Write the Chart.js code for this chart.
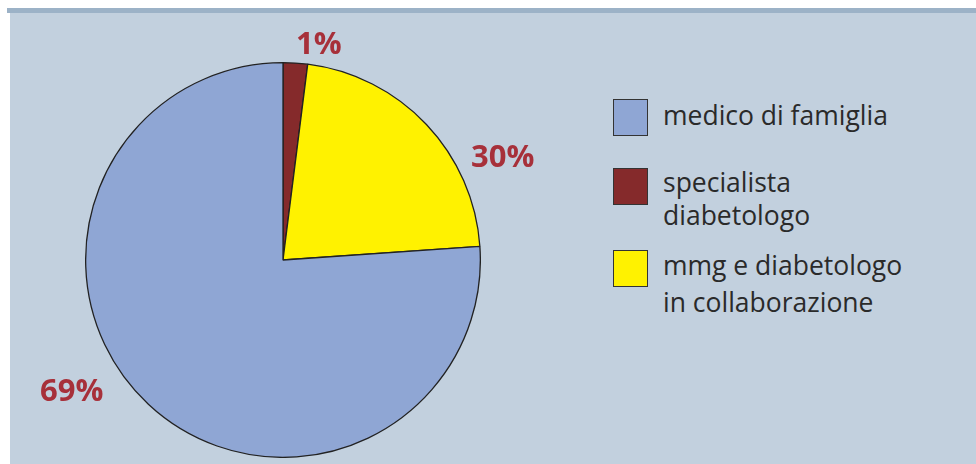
<!DOCTYPE html>
<html>
<head>
<meta charset="utf-8">
<script src="https://cdn.jsdelivr.net/npm/chart.js@4.4.0/dist/chart.umd.min.js"></script>
<style>
body{margin:0;width:976px;height:464px;background:#fff;position:relative;overflow:hidden;font-family:"Open Sans",sans-serif}
#bar{position:absolute;left:7px;top:8px;right:0;height:5px;background:#9cb2c7}
#panel{position:absolute;left:10px;top:13px;right:0;bottom:0;background:#c2d0de}
#wrap{position:absolute;left:85px;top:62px;width:396px;height:396px}
.pct{position:absolute;font-weight:bold;font-size:31px;line-height:1;color:#a7303a;white-space:nowrap}
.box{position:absolute;left:613px;width:33px;height:35px;border:1.5px solid #333}
.lab{position:absolute;left:663px;font-size:26.5px;line-height:1;color:#2a2a2a;white-space:nowrap}
</style>
</head>
<body>
<div id="bar"></div>
<div id="panel"></div>
<div id="wrap"><canvas id="mycanvas" width="396" height="396"></canvas></div>
<div id="labels"></div>
<script>
// drawn shares measured from the slice angles, starting at 12 o'clock clockwise
var categories=['specialista diabetologo','mmg e diabetologo in collaborazione','medico di famiglia'];
var shares=[2.0,21.9,76.1];
var colors=['#852a2b','#fff200','#8fa6d4'];
// printed percentages
var pctText=['1%','30%','69%'];
var pctPos=[[296,54],[471,167],[40,401]];

// legend (order as in the original)
var legendOrder=[2,0,1];
var legendLines=[['medico di famiglia'],['specialista','diabetologo'],['mmg e diabetologo','in collaborazione']];
var legendBoxTop=[99,168,250];
var legendBase=[[125],[192,225],[275,312]];

var out='';
for(var i=0;i<pctText.length;i++){
	out+='<div class="pct" style="left:'+pctPos[i][0]+'px;top:'+(pctPos[i][1]-27.5)+'px">'+pctText[i]+'</div>';
}
for(var j=0;j<legendOrder.length;j++){
	out+='<div class="box" style="top:'+legendBoxTop[j]+'px;background:'+colors[legendOrder[j]]+'"></div>';
	for(var k=0;k<legendLines[j].length;k++){
		out+='<div class="lab" style="top:'+(legendBase[j][k]-23.5)+'px">'+legendLines[j][k]+'</div>';
	}
}
document.getElementById('labels').innerHTML=out;

var ctx=document.getElementById('mycanvas');
new Chart(ctx,{
	type:'pie',
	data:{
		labels:categories,
		datasets:[{
			data:shares,
			backgroundColor:colors,
			borderColor:'#222',
			borderWidth:1.3
		}]
	},
	options:{
		responsive:false,
		animation:false,
		layout:{padding:0},
		plugins:{legend:{display:false},tooltip:{enabled:false}}
	}
});
</script>
</body>
</html>
